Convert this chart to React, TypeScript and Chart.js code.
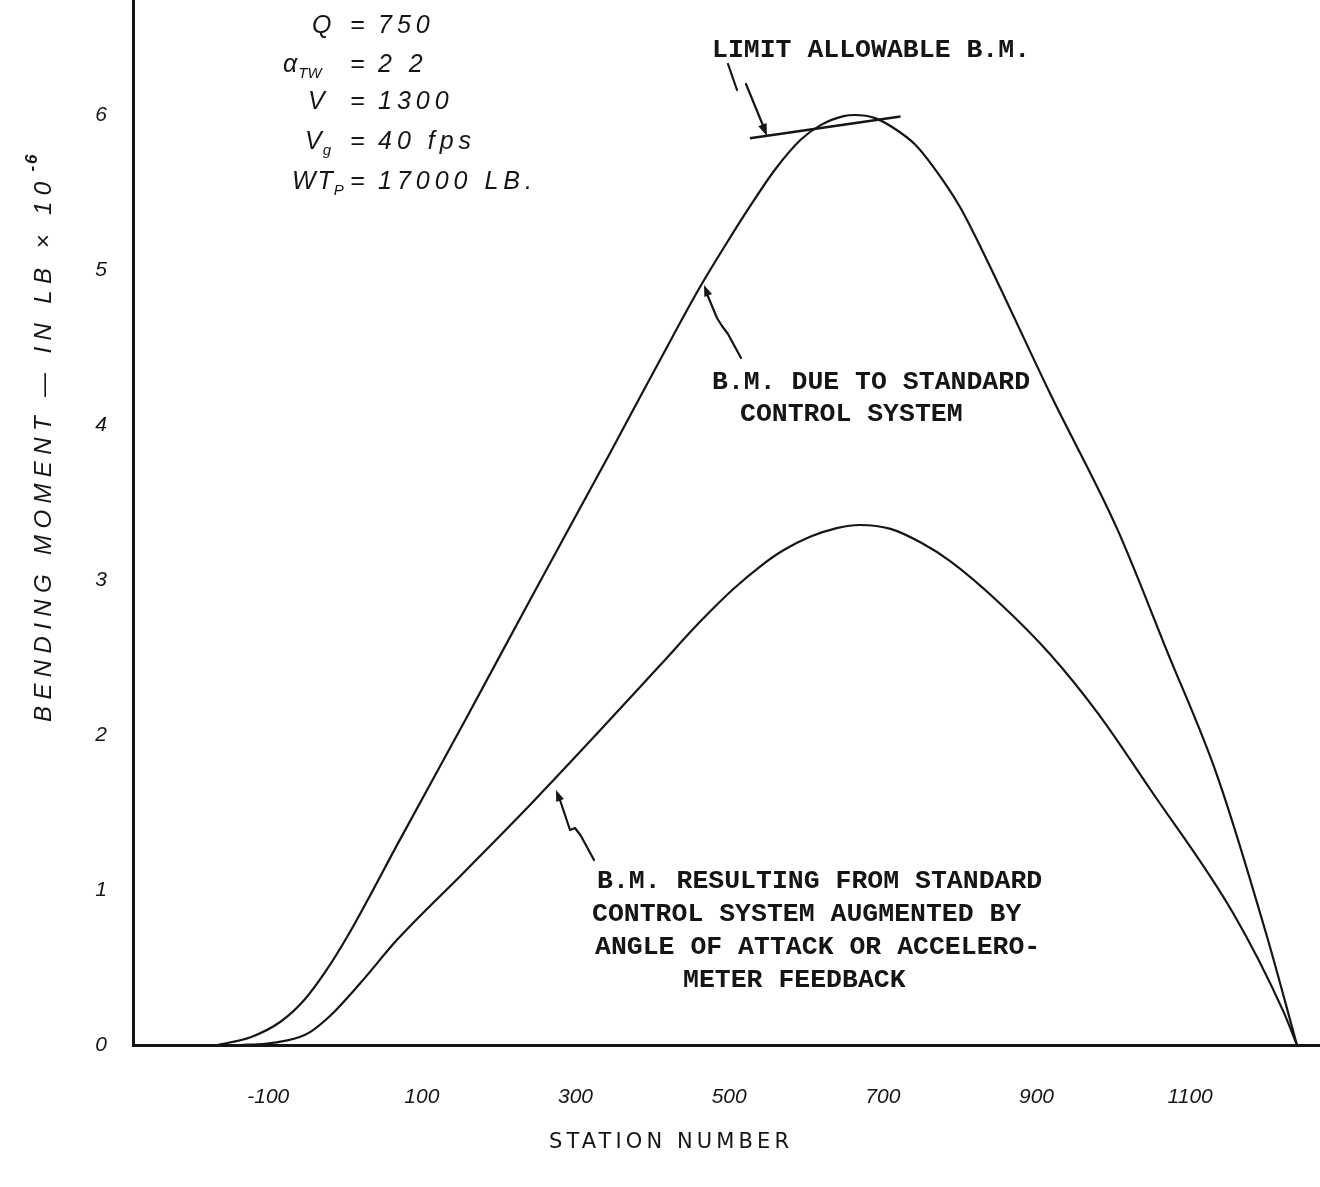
import React, { useEffect, useRef } from "react";
import { Chart, registerables } from "chart.js";

Chart.register(...registerables);

// ---------------- data ----------------
const stationTicks = [-100, 100, 300, 500, 700, 900, 1100];
const momentTicks = [0, 1, 2, 3, 4, 5, 6];

// B.M. due to standard control system
const standardStation = [-166, -123, -84, -54, -26, 3, 72, 159, 245, 345, 410, 462, 495, 527, 560, 593, 619, 649, 664, 690, 716, 742, 765, 800, 830, 918, 1005, 1070, 1135, 1200, 1239];
const standardMoment = [0, 0.05, 0.15, 0.285, 0.47, 0.7, 1.33, 2.12, 2.91, 3.82, 4.42, 4.89, 5.16, 5.41, 5.65, 5.84, 5.935, 5.993, 6.0, 5.98, 5.91, 5.81, 5.67, 5.41, 5.12, 4.2, 3.33, 2.54, 1.74, 0.7, 0];

// B.M. with angle of attack / accelerometer feedback
const augmentedStation = [-136, -104, -75, -60, -45, -19, 20, 68, 154, 241, 332, 410, 462, 505, 541, 570, 606, 640, 670, 710, 750, 788, 850, 918, 980, 1048, 1156, 1221, 1239];
const augmentedMoment = [0, 0.008, 0.03, 0.05, 0.085, 0.19, 0.4, 0.68, 1.11, 1.55, 2.03, 2.45, 2.73, 2.94, 3.09, 3.19, 3.28, 3.335, 3.355, 3.33, 3.24, 3.12, 2.86, 2.52, 2.14, 1.65, 0.85, 0.22, 0];

// limit allowable B.M. line
const limitStation = [527, 723];
const limitMoment = [5.85, 5.99];

const paramSymbols = ["Q", "α", "V", "V", "WT"];
const paramSubs = ["", "TW", "", "g", "P"];
const paramValues = ["750", "2 2", "1300", "40 fps", "17000 LB."];

const limitText = ["LIMIT ALLOWABLE B.M."];
const standardText = ["B.M. DUE TO STANDARD", "CONTROL SYSTEM"];
const augmentedText = [
  "B.M. RESULTING FROM STANDARD",
  "CONTROL SYSTEM AUGMENTED BY",
  "ANGLE OF ATTACK OR ACCELERO-",
  "METER FEEDBACK",
];
const yTitle = "BENDING MOMENT — IN LB × 10";
const yTitleSup = "-6";
const xTitle = "STATION NUMBER";

const INK = "#151515";

function toPoints(xs: number[], ys: number[]) {
  return xs.map((x, i) => ({ x, y: ys[i] }));
}

function arrowHead(ctx: CanvasRenderingContext2D, fx: number, fy: number, tx: number, ty: number, size: number) {
  const a = Math.atan2(ty - fy, tx - fx);
  ctx.beginPath();
  ctx.moveTo(tx, ty);
  ctx.lineTo(tx - size * Math.cos(a - 0.35), ty - size * Math.sin(a - 0.35));
  ctx.lineTo(tx - size * Math.cos(a + 0.35), ty - size * Math.sin(a + 0.35));
  ctx.closePath();
  ctx.fill();
}

function polyline(ctx: CanvasRenderingContext2D, pts: number[][]) {
  ctx.beginPath();
  ctx.moveTo(pts[0][0], pts[0][1]);
  for (let i = 1; i < pts.length; i++) ctx.lineTo(pts[i][0], pts[i][1]);
  ctx.stroke();
}

function fitText(ctx: CanvasRenderingContext2D, text: string, x: number, y: number, width: number) {
  (ctx as any).letterSpacing = "0px";
  const w = ctx.measureText(text).width;
  const n = Math.max(text.length - 1, 1);
  const sp = Math.max((width - w) / n, 0);
  (ctx as any).letterSpacing = sp + "px";
  ctx.fillText(text, x, y);
  const out = w + sp * text.length;
  (ctx as any).letterSpacing = "0px";
  return out;
}

const annotationPlugin = {
  id: "annotations",
  beforeDraw(chart: any) {
    const ctx = chart.ctx;
    ctx.save();
    ctx.fillStyle = "#ffffff";
    ctx.fillRect(0, 0, chart.width, chart.height);
    ctx.restore();
  },
  afterDraw(chart: any) {
    const ctx: CanvasRenderingContext2D = chart.ctx;
    ctx.save();
    ctx.fillStyle = INK;
    ctx.strokeStyle = INK;
    ctx.lineCap = "round";
    ctx.lineJoin = "round";

    // typewritten labels
    ctx.font = 'bold 26.5px "Liberation Mono", "DejaVu Sans Mono", monospace';
    ctx.textAlign = "left";
    ctx.textBaseline = "alphabetic";
    ctx.fillText(limitText[0], 712, 57);
    ctx.fillText(standardText[0], 712, 389);
    ctx.fillText(standardText[1], 740, 421);
    const augX = [597, 592, 595, 683];
    const augY = [888, 921, 954, 987];
    augmentedText.forEach((t, i) => ctx.fillText(t, augX[i], augY[i]));

    // arrows
    ctx.lineWidth = 2.2;
    polyline(ctx, [[728, 64], [737, 90]]);
    polyline(ctx, [[746, 84], [764, 128]]);
    arrowHead(ctx, 746, 84, 767, 136, 13);

    polyline(ctx, [[741, 358], [728, 334], [722, 326], [717, 318], [712, 306], [707, 294]]);
    arrowHead(ctx, 710, 300, 704, 285, 12);

    polyline(ctx, [[594, 860], [581, 836], [575, 828], [570, 830], [564, 812], [560, 800]]);
    arrowHead(ctx, 561, 803, 556, 790, 12);

    // handwritten parameters
    const symX = [312, 283, 308, 305, 292];
    const rowY = [33, 72, 109, 149, 189];
    for (let i = 0; i < paramSymbols.length; i++) {
      ctx.font = 'italic 25px "Liberation Sans", "DejaVu Sans", sans-serif';
      (ctx as any).letterSpacing = "2px";
      ctx.textAlign = "left";
      ctx.fillText(paramSymbols[i], symX[i], rowY[i]);
      const sw = ctx.measureText(paramSymbols[i]).width;
      if (paramSubs[i]) {
        ctx.font = 'italic 15px "Liberation Sans", "DejaVu Sans", sans-serif';
        (ctx as any).letterSpacing = "0px";
        ctx.fillText(paramSubs[i], symX[i] + sw - 1, rowY[i] + 6);
      }
      ctx.font = 'italic 25px "Liberation Sans", "DejaVu Sans", sans-serif';
      (ctx as any).letterSpacing = "0px";
      ctx.fillText("=", 350, rowY[i]);
      (ctx as any).letterSpacing = "5px";
      ctx.fillText(paramValues[i], 378, rowY[i]);
      (ctx as any).letterSpacing = "0px";
    }

    // y title (rotated)
    ctx.save();
    ctx.translate(51, 722);
    ctx.rotate(-Math.PI / 2);
    ctx.font = 'italic 24px "Liberation Sans", "DejaVu Sans", sans-serif';
    ctx.textAlign = "left";
    const used = fitText(ctx, yTitle, 0, 0, 540);
    ctx.font = 'italic bold 17px "Liberation Sans", "DejaVu Sans", sans-serif';
    (ctx as any).letterSpacing = "2px";
    ctx.fillText(yTitleSup, used + 4, -14);
    (ctx as any).letterSpacing = "0px";
    ctx.restore();

    // x title
    ctx.font = '21px "DejaVu Sans", "Liberation Sans", sans-serif';
    ctx.textAlign = "left";
    fitText(ctx, xTitle, 549, 1148, 240);

    ctx.restore();
  },
};

export default function App() {
  const ref = useRef<HTMLCanvasElement | null>(null);

  useEffect(() => {
    document.body.style.overflow = "hidden";
    const canvas = ref.current;
    if (!canvas) return;
    const tickFont = { family: '"Liberation Sans", "DejaVu Sans", sans-serif', size: 21, style: "italic" as const };
    const curve = {
      borderColor: INK,
      borderWidth: 2.2,
      pointRadius: 0,
      cubicInterpolationMode: "monotone" as const,
      fill: false,
    };
    const chart = new Chart(canvas, {
      type: "line",
      data: {
        datasets: [
          {
            label: "B.M. due to standard control system",
            data: toPoints(standardStation, standardMoment),
            ...curve,
          },
          {
            label: "B.M. augmented",
            data: toPoints(augmentedStation, augmentedMoment),
            ...curve,
          },
          {
            label: "Limit allowable B.M.",
            data: toPoints(limitStation, limitMoment),
            borderColor: INK,
            borderWidth: 2.4,
            pointRadius: 0,
            tension: 0,
            fill: false,
          },
        ],
      },
      options: {
        animation: false,
        responsive: true,
        maintainAspectRatio: false,
        layout: { padding: 0 },
        plugins: {
          legend: { display: false },
          tooltip: { enabled: false },
          title: { display: false },
        },
        events: [],
        scales: {
          x: {
            type: "linear",
            min: -276,
            max: 1269,
            grid: { display: false, drawTicks: false },
            border: { display: true, color: INK, width: 3 },
            ticks: {
              color: INK,
              font: tickFont,
              padding: 40,
              maxRotation: 0,
              autoSkip: false,
              callback: (v: any) => String(v),
            },
            afterBuildTicks: (scale: any) => {
              scale.ticks = stationTicks.map((v) => ({ value: v }));
            },
            afterFit: (scale: any) => {
              scale.height = 142;
              scale.paddingLeft = 0;
              scale.paddingRight = 0;
            },
          },
          y: {
            type: "linear",
            min: 0,
            max: 6.742,
            grid: { display: false, drawTicks: false },
            border: { display: true, color: INK, width: 3 },
            ticks: {
              color: INK,
              font: tickFont,
              padding: 26,
              autoSkip: false,
              callback: (v: any) => String(v),
            },
            afterBuildTicks: (scale: any) => {
              scale.ticks = momentTicks.map((v) => ({ value: v }));
            },
            afterFit: (scale: any) => {
              scale.width = 133;
              scale.paddingTop = 0;
              scale.paddingBottom = 0;
            },
          },
        },
      },
      plugins: [annotationPlugin],
    });
    return () => chart.destroy();
  }, []);

  return (
    <div style={{ position: "absolute", left: 0, top: 0, width: 1320, height: 1187, background: "#fff" }}>
      <canvas ref={ref} />
    </div>
  );
}
